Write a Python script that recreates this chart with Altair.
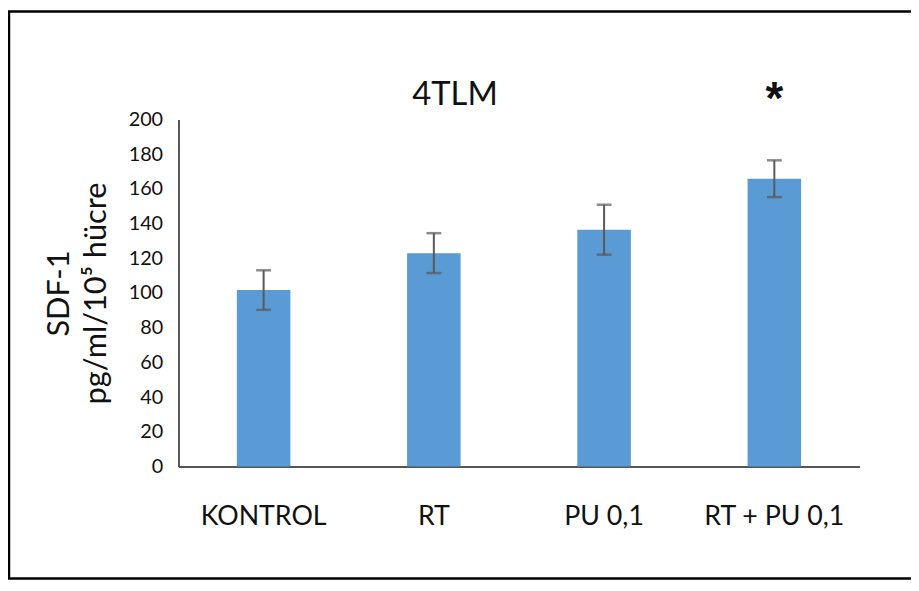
import altair as alt
import pandas as pd

categories = ["KONTROL", "RT", "PU 0,1", "RT + PU 0,1"]
means = [101.7, 123.0, 136.5, 165.9]
errors = [11.4, 11.5, 14.4, 10.6]
markers = ["", "", "", "*"]
chart_title = "4TLM"
y_ticks = [0, 20, 40, 60, 80, 100, 120, 140, 160, 180, 200]

df = pd.DataFrame({
    "group": categories,
    "mean": means,
    "err": errors,
    "marker": markers,
})
df["lo"] = df["mean"] - df["err"]
df["hi"] = df["mean"] + df["err"]

FONT = "Lato"
W, H = 687, 350

x_axis = alt.Axis(title=None, labelAngle=0, ticks=False, grid=False,
                  labelFont=FONT, labelFontSize=27, labelColor="#111",
                  labelPadding=38, domainColor="#555", domainWidth=2)
xscale = alt.Scale(paddingInner=0, paddingOuter=0)
y_axis = alt.Axis(title=["SDF-1", "pg/ml/10⁵ hücre"], values=y_ticks,
                  ticks=False, grid=False, labelFont=FONT, labelFontSize=20,
                  labelColor="#111", labelPadding=16, labelOverlap=False,
                  domainColor="#555", domainWidth=2, titleFont=FONT,
                  titleFontSize=31, titleFontWeight="normal", titleColor="#111",
                  titlePadding=16, titleLineHeight=37)
yscale = alt.Scale(domain=[0, 200], nice=False)


def X():
    return alt.X("group:N", sort=categories, scale=xscale, axis=x_axis)


def Y(field):
    return alt.Y(field, scale=yscale, axis=y_axis)


base = alt.Chart(df)

bars = base.mark_bar(width=54, color="#5B9BD5").encode(x=X(), y=Y("mean:Q"))
rules = base.mark_rule(color="#595959", strokeWidth=2).encode(
    x=X(), y=Y("lo:Q"), y2="hi:Q")
caps_lo = base.mark_tick(color="#595959", size=15, thickness=2.5).encode(
    x=X(), y=Y("lo:Q"))
caps_hi = base.mark_tick(color="#595959", size=15, thickness=2.5).encode(
    x=X(), y=Y("hi:Q"))
stars = base.mark_text(font="Liberation Sans", fontSize=46, fontWeight="bold",
                       color="#111", baseline="alphabetic", dy=-47).encode(
    x=X(), y=Y("hi:Q"), text="marker:N")

title_text = alt.Chart(alt.Data(values=[{"t": chart_title}])).mark_text(
    font=FONT, fontSize=33, color="#111", baseline="alphabetic", align="center").encode(
    x=alt.value(279), y=alt.value(-15), text="t:N")

frame = alt.Chart(alt.Data(values=[{}])).mark_rect(
    filled=False, stroke="#000", strokeWidth=2.5).encode(
    x=alt.value(-171), x2=alt.value(800), y=alt.value(-109), y2=alt.value(463))

chart = alt.layer(bars, rules, caps_lo, caps_hi, stars, title_text, frame).properties(
    width=W, height=H,
    autosize=alt.AutoSizeParams(type="none"),
    padding={"left": 172, "top": 110, "right": 52, "bottom": 115},
).configure(background="white").configure_view(strokeWidth=0
).configure_axisY(labelOverlap=False)

chart.save("out.html", embed_options={"renderer": "svg", "actions": False})
